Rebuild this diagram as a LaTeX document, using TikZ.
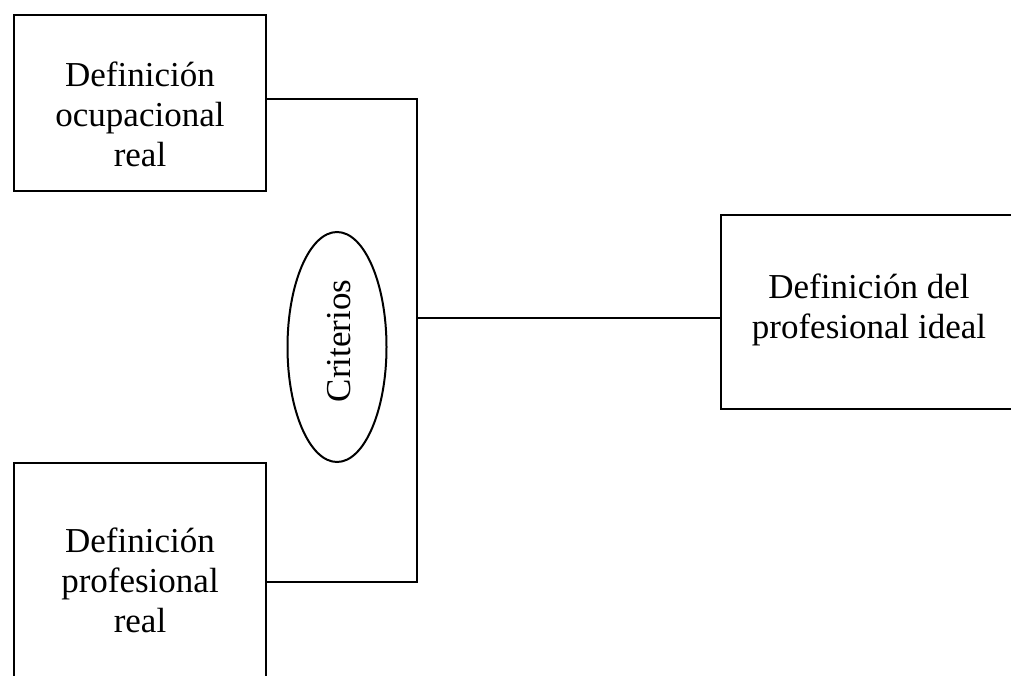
\documentclass[tikz,border=0pt]{standalone}
\usepackage{fontspec}
\setmainfont{Liberation Serif}
\usetikzlibrary{shapes.geometric}
\begin{document}
\begin{tikzpicture}[x=1pt,y=-1pt,line width=2pt,
  box/.style={draw,rectangle,inner sep=0pt},
  lbl/.style={align=center,inner sep=0pt,font=\fontsize{35}{40}\selectfont}]
\useasboundingbox (0,0) rectangle (1011,676);
\clip (0,0) rectangle (1011,676);
\fill[white] (0,0) rectangle (1011,676);
% boxes
\node[box,minimum width=252pt,minimum height=176pt] (a) at (140,103) {};
\node[box,minimum width=252pt,minimum height=238pt] (b) at (140,582) {};
\node[box,minimum width=292pt,minimum height=194pt] (c) at (867,312) {};
% labels
\node[lbl] (ta) at (140,114) {Definición\\ocupacional\\real};
\node[lbl] (tb) at (140,580) {Definición\\profesional\\real};
\node[lbl] (tc) at (869,310) {Definición del\\profesional ideal};
% ellipse
\node[draw,ellipse,minimum width=99pt,minimum height=230pt,inner sep=0pt] (e) at (337,347) {};
\node[lbl,rotate=90] (te) at (339,341) {Criterios};
% connectors
\coordinate (jt) at (417,318);
\draw ([yshift=4pt]a.east) -| (jt) |- (b.east);
\draw (jt) -- (jt -| c.west);
\end{tikzpicture}
\end{document}
